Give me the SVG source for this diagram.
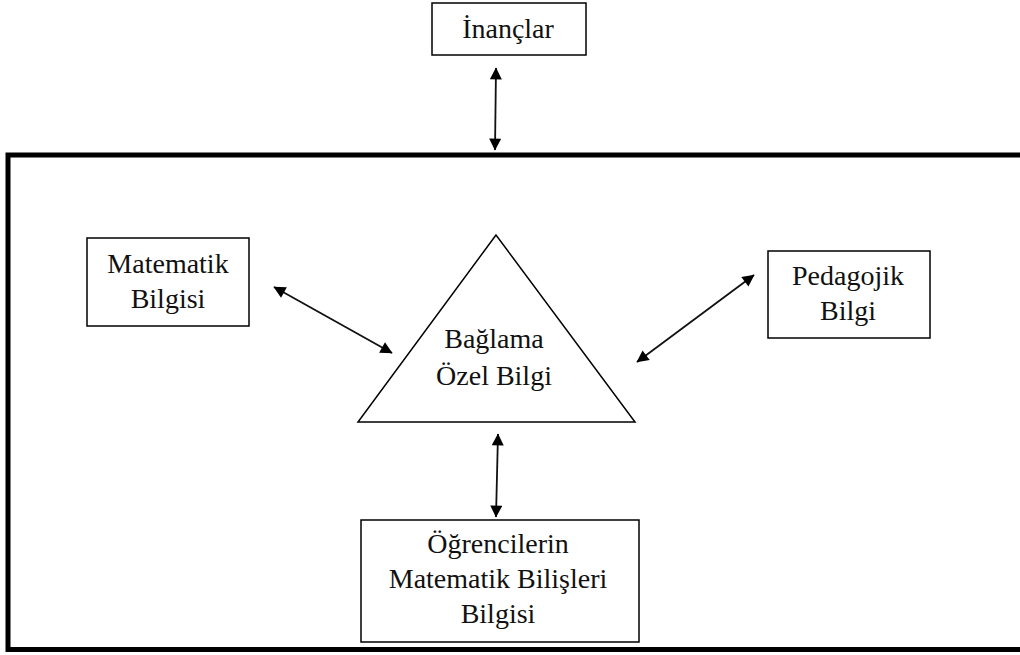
<svg xmlns="http://www.w3.org/2000/svg" width="1020" height="655" viewBox="0 0 1020 655">
<style>
.box{fill:#fff;stroke:#000;stroke-width:1.5}
.t{font-family:"Liberation Serif","Times New Roman",serif;font-size:28px;fill:#111;text-anchor:middle}
.c{stroke:#111;stroke-width:1.8;fill:none;marker-start:url(#ah);marker-end:url(#ah)}
</style>
<defs>
<marker id="ah" viewBox="0 0 10 10" refX="9.5" refY="5" markerWidth="13" markerHeight="12" markerUnits="userSpaceOnUse" orient="auto-start-reverse">
<path d="M0,0 L10,5 L0,10 z" fill="#000"/>
</marker>
</defs>
<rect width="1020" height="655" fill="#fff"/>
<g id="frame">
<path d="M8,652 V155 H1020 M8,649.5 H1020" fill="none" stroke="#000" stroke-width="5"/>
</g>
<g id="inanclar">
<rect class="box" x="432" y="3" width="154" height="52"/>
<text class="t" x="508" y="38">İnançlar</text>
</g>
<g id="matematik">
<rect class="box" x="87" y="238" width="162" height="88"/>
<text class="t" x="168" y="273">Matematik</text>
<text class="t" x="168" y="308">Bilgisi</text>
</g>
<g id="pedagojik">
<rect class="box" x="768" y="251" width="162" height="87"/>
<text class="t" x="848" y="285">Pedagojik</text>
<text class="t" x="848" y="320">Bilgi</text>
</g>
<g id="baglama">
<polygon class="box" points="496,235 358,422 635,422"/>
<text class="t" x="494" y="348">Bağlama</text>
<text class="t" x="494" y="385">Özel Bilgi</text>
</g>
<g id="ogrenci">
<rect class="box" x="361" y="520" width="278" height="122"/>
<text class="t" x="498" y="553">Öğrencilerin</text>
<text class="t" x="498" y="588">Matematik Bilişleri</text>
<text class="t" x="498" y="623">Bilgisi</text>
</g>
<g id="connectors">
<line class="c" x1="496" y1="68" x2="495" y2="150"/>
<line class="c" x1="274" y1="287" x2="392" y2="353"/>
<line class="c" x1="754" y1="275" x2="637" y2="362"/>
<line class="c" x1="498" y1="434" x2="496" y2="517"/>
</g>
</svg>
